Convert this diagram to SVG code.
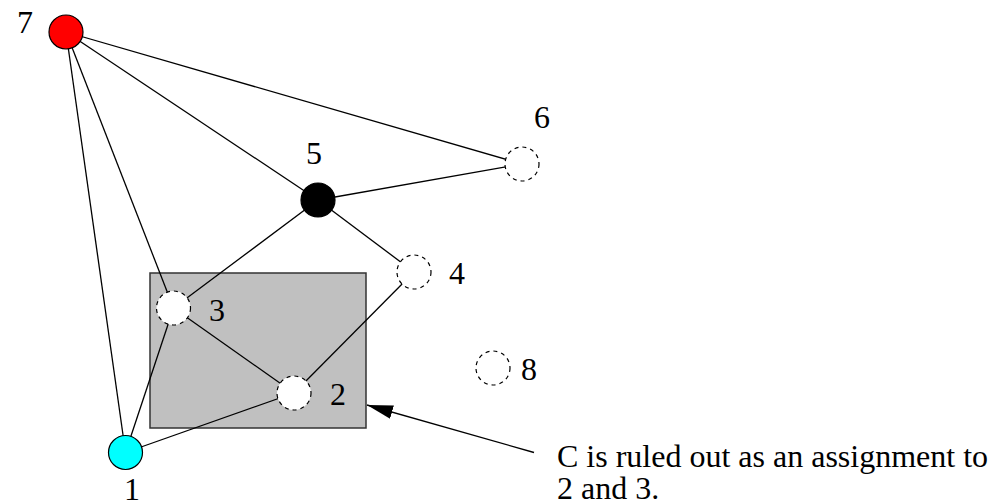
<svg xmlns="http://www.w3.org/2000/svg" width="996" height="504" viewBox="0 0 996 504">
<style>
.e{stroke:#000;stroke-width:1.3;fill:none}
.n{stroke:#000;stroke-width:1.2}
.d{fill:#fff;stroke:#000;stroke-width:1.2;stroke-dasharray:4 4}
.t{font-family:"Liberation Serif","Times New Roman",serif;font-size:32px;fill:#000}
</style>
<defs>
<marker id="ah" markerWidth="26" markerHeight="14" refX="26" refY="7" orient="auto" markerUnits="userSpaceOnUse">
<path d="M0,0 L26,7 L0,14 Z" fill="#000"/>
</marker>
</defs>
<rect id="box" x="150" y="273" width="216" height="155" fill="#c0c0c0" stroke="#333" stroke-width="1.5"/>
<g id="connectors">
<line class="e" x1="66" y1="32" x2="522" y2="164"/>
<line class="e" x1="66" y1="32" x2="318" y2="200"/>
<line class="e" x1="66" y1="32" x2="173.5" y2="308"/>
<line class="e" x1="66" y1="32" x2="125.5" y2="452.5"/>
<line class="e" x1="318" y1="200" x2="522" y2="164"/>
<line class="e" x1="318" y1="200" x2="173.5" y2="308"/>
<line class="e" x1="318" y1="200" x2="414" y2="272"/>
<line class="e" x1="414" y1="272" x2="294" y2="393"/>
<line class="e" x1="173.5" y1="308" x2="294" y2="393"/>
<line class="e" x1="173.5" y1="308" x2="125.5" y2="452.5"/>
<line class="e" x1="294" y1="393" x2="125.5" y2="452.5"/>
<line class="e" x1="534" y1="452.5" x2="367" y2="405" marker-end="url(#ah)"/>
</g>
<g id="node7"><circle class="n" cx="66" cy="32" r="17" fill="#ff0000"/><text class="t" x="17" y="33">7</text></g>
<g id="node5"><circle class="n" cx="318" cy="200" r="17" fill="#000"/><text class="t" x="306" y="164">5</text></g>
<g id="node6"><circle class="d" cx="522" cy="164" r="17"/><text class="t" x="534" y="128">6</text></g>
<g id="node4"><circle class="d" cx="414" cy="272" r="17"/><text class="t" x="449" y="284">4</text></g>
<g id="node3"><circle class="d" cx="173.5" cy="308" r="17"/><text class="t" x="209" y="321">3</text></g>
<g id="node2"><circle class="d" cx="294" cy="393" r="17"/><text class="t" x="330" y="405">2</text></g>
<g id="node8"><circle class="d" cx="493" cy="368" r="17"/><text class="t" x="521" y="380">8</text></g>
<g id="node1"><circle class="n" cx="125.5" cy="452.5" r="17" fill="#00ffff"/><text class="t" x="124" y="500">1</text></g>
<g id="note"><text class="t" x="557" y="467">C is ruled out as an assignment to</text><text class="t" x="557" y="499">2 and 3.</text></g>
</svg>
